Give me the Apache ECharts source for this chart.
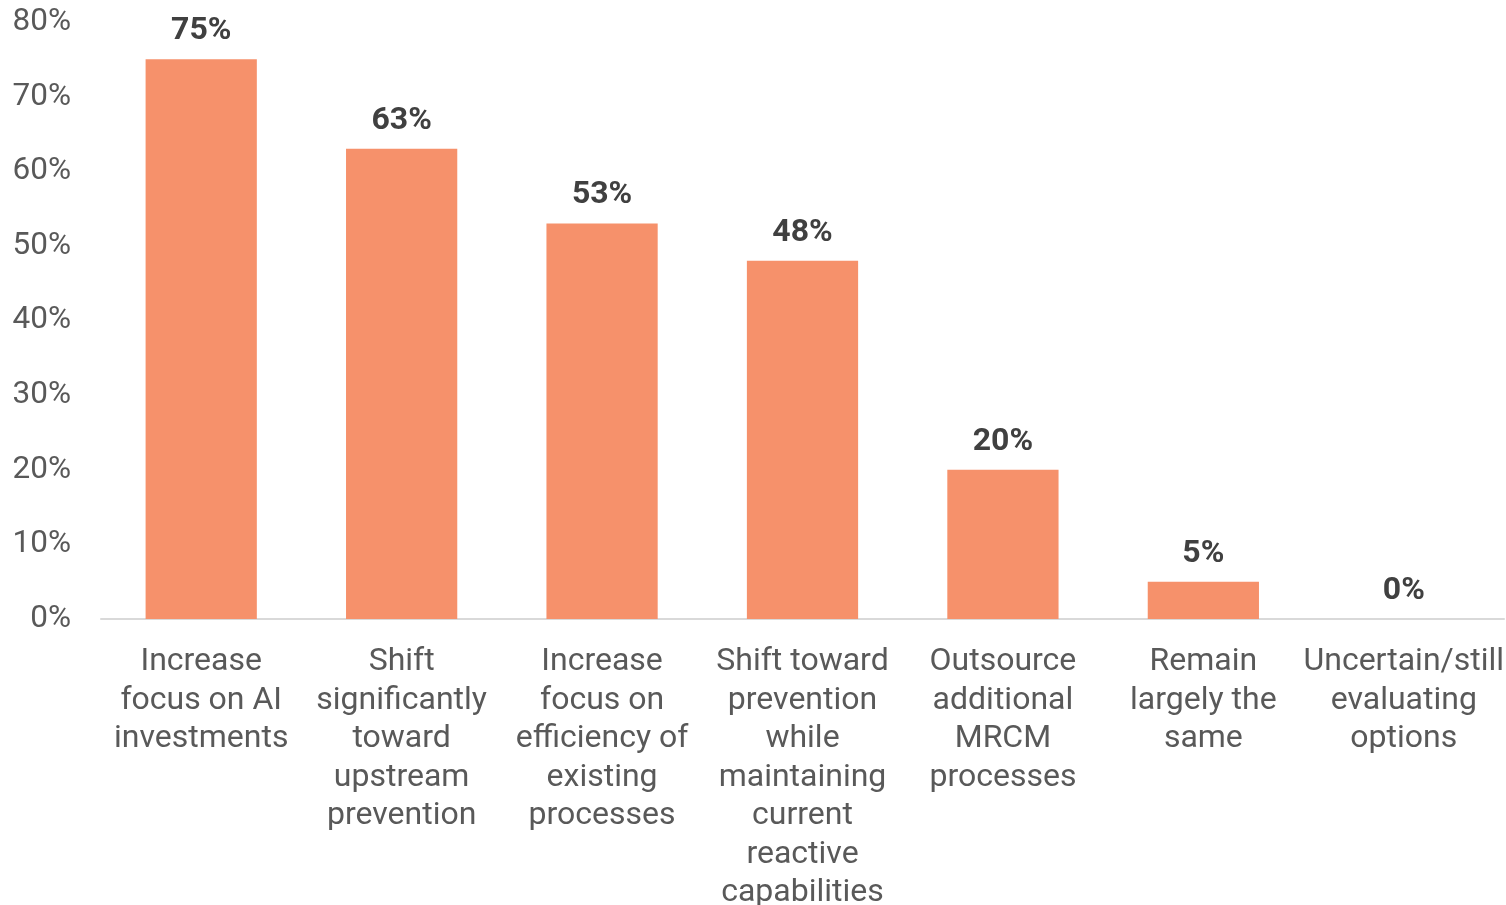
<!DOCTYPE html>
<html>
<head>
<meta charset="utf-8">
<script src="https://cdn.jsdelivr.net/npm/echarts@6/dist/echarts.min.js"></script>
<style>
  html, body { margin: 0; padding: 0; background: #ffffff; overflow: hidden; }
  #chart { width: 1506px; height: 905px; }
</style>
</head>
<body>
<div id="chart"></div>
<script>
// Survey responses: planned changes in approach (share of respondents, %)
const categories = [
  'Increase\nfocus on AI\ninvestments',
  'Shift\nsignificantly\ntoward\nupstream\nprevention',
  'Increase\nfocus on\nefficiency of\nexisting\nprocesses',
  'Shift toward\nprevention\nwhile\nmaintaining\ncurrent\nreactive\ncapabilities',
  'Outsource\nadditional\nMRCM\nprocesses',
  'Remain\nlargely the\nsame',
  'Uncertain/still\nevaluating\noptions'
];
const shares = [75, 63, 53, 48, 20, 5, 0];
const yTicks = [0, 10, 20, 30, 40, 50, 60, 70, 80];

const chart = echarts.init(document.getElementById('chart'));
chart.setOption({
  animation: false,
  grid: {
    left: 101, right: 2, top: 22, bottom: 286,
    containLabel: false,
    outerBoundsMode: 'none'
  },
  xAxis: {
    type: 'category',
    data: categories,
    axisLine: { show: true, lineStyle: { color: '#d9d9d9', width: 2 } },
    axisTick: { show: false },
    axisLabel: {
      interval: 0,
      margin: 24,
      fontFamily: 'Roboto',
      fontSize: 32,
      lineHeight: 38.5,
      color: '#595959',
      align: 'center'
    }
  },
  yAxis: {
    type: 'value',
    min: yTicks[0],
    max: yTicks[yTicks.length - 1],
    interval: 10,
    splitLine: { show: false },
    axisLine: { show: false },
    axisTick: { show: false },
    axisLabel: {
      margin: 30,
      padding: [6, 0, 0, 0],
      fontFamily: 'Roboto',
      fontSize: 31.5,
      color: '#595959',
      formatter: v => v + '%'
    }
  },
  series: [{
    type: 'bar',
    data: shares,
    barWidth: '55.5%',
    itemStyle: { color: '#F6916B' },
    label: {
      show: true,
      position: 'top',
      distance: 12,
      fontFamily: 'Roboto',
      fontSize: 32,
      fontWeight: 'bold',
      color: '#404040',
      formatter: p => p.value + '%'
    }
  }]
});
</script>
</body>
</html>
